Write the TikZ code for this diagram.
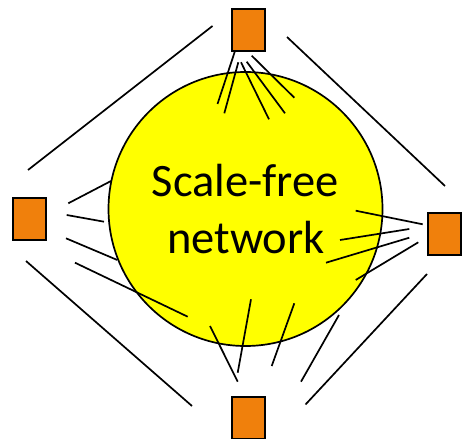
\documentclass[tikz,border=0pt]{standalone}
\usepackage{fontspec}
\setmainfont{Carlito}
\definecolor{boxorange}{RGB}{240,128,12}
\definecolor{netyellow}{RGB}{255,255,0}
\begin{document}
\begin{tikzpicture}[x=1pt,y=-1pt,
  sq/.style={draw=black,line width=2pt,fill=boxorange,minimum width=33pt,minimum height=42pt,inner sep=0pt},
  seg/.style={line width=1.7pt},
  lbl/.style={font=\fontsize{46.5}{56}\selectfont,inner sep=0pt,anchor=base}]
\useasboundingbox (0,0) rectangle (462,438);
% network circle
\node[draw=black,line width=1.7pt,fill=netyellow,circle,minimum size=274pt,inner sep=0pt] (net) at (245.5,209) {};
\node[lbl] (t1) at (245,196.7) {Scale-free};
\node[lbl] (t2) at (246,253.3) {network};
% squares
\node[sq] (top) at (248,30.5) {};
\node[sq] (left) at (29,218.5) {};
\node[sq] (right) at (444.5,234) {};
\node[sq] (bottom) at (248,417.5) {};
% long outer lines
\draw[seg] (28,170) -- (212.5,26);
\draw[seg] (287,37) -- (445,186);
\draw[seg] (26,261) -- (192,406);
\draw[seg] (427,274) -- (305.5,404.5);
% top bundle
\draw[seg] (235,51) -- (217.5,104);
\draw[seg] (238.3,62.3) -- (224.3,113.3);
\draw[seg] (241,62.3) -- (269,119.3);
\draw[seg] (246.7,61.7) -- (285,113.3);
\draw[seg] (251.7,55.7) -- (294.3,97.7);
% left bundle
\draw[seg] (68.3,203.3) -- (111,181);
\draw[seg] (66.7,215) -- (104,221.7);
\draw[seg] (66,238.3) -- (117.3,260);
\draw[seg] (75,262.7) -- (187.7,316.7);
% right bundle
\draw[seg] (355.7,210.7) -- (422.7,224.3);
\draw[seg] (340,240) -- (409.3,229);
\draw[seg] (326,262.7) -- (409.3,237.7);
\draw[seg] (355.7,280) -- (418.3,242.3);
% bottom bundle
\draw[seg] (210,326) -- (237.7,381.7);
\draw[seg] (251,299.3) -- (237.7,372.7);
\draw[seg] (294.3,303.3) -- (271.7,366);
\draw[seg] (339,315) -- (301,381.7);
\end{tikzpicture}
\end{document}
